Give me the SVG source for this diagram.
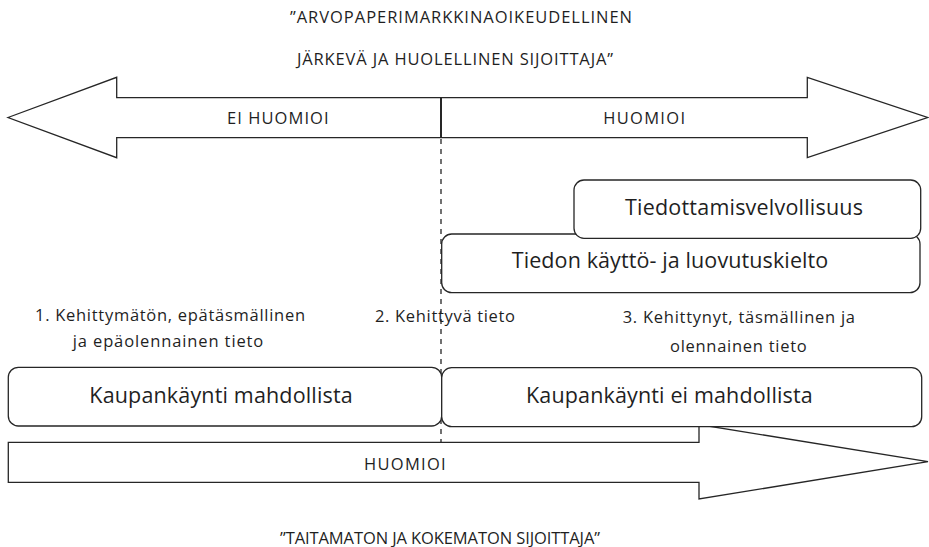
<svg xmlns="http://www.w3.org/2000/svg" width="929" height="547" viewBox="0 0 929 547">
  <style>
    .shape { fill: #ffffff; stroke: #262626; stroke-width: 1.3; stroke-linejoin: miter; }
    .box { fill: #ffffff; stroke: #262626; stroke-width: 1.3; }
    text { font-family: "Open Sans", "Liberation Sans", sans-serif; fill: #1f1f1f; }
    .cap { font-size: 16.5px; }
    .lbl { font-size: 16.5px; }
    .big { font-size: 21.5px; }
    .line { stroke: #262626; fill: none; }
  </style>
  <rect width="929" height="547" fill="#ffffff"/>

  <!-- heading -->
  <g id="heading-top">
    <text class="cap" x="290" y="23" textLength="342">”ARVOPAPERIMARKKINAOIKEUDELLINEN</text>
    <text class="cap" x="297" y="64.5" textLength="316">JÄRKEVÄ JA HUOLELLINEN SIJOITTAJA”</text>
  </g>

  <!-- double-headed scale arrow -->
  <g id="scale-arrow">
    <path class="shape" d="M8,117.5 L116.7,77.3 L116.7,97.7 L807.3,97.7 L807.3,77.3 L927.5,117.5 L807.3,157.7 L807.3,137.7 L116.7,137.7 L116.7,157.7 Z"/>
    <text class="cap" x="227" y="123.5" textLength="101.6">EI HUOMIOI</text>
    <text class="cap" x="603.3" y="124" textLength="81.7">HUOMIOI</text>
  </g>

  <!-- bottom one-way arrow -->
  <g id="bottom-arrow">
    <path class="shape" d="M8.3,442.3 L699,442.3 L699,424.5 L928,461.7 L699,499 L699,482.3 L8.3,482.3 Z"/>
    <text class="cap" x="364" y="470" textLength="81.7">HUOMIOI</text>
  </g>

  <!-- divider between the two halves -->
  <g id="connectors">
    <line class="line" x1="441" y1="97.7" x2="441" y2="137.7" stroke-width="2"/>
    <line class="line" x1="441" y1="139" x2="441" y2="442" stroke-width="1.3" stroke-dasharray="5 5"/>
  </g>

  <!-- stage labels -->
  <g id="stage-1">
    <text class="lbl" x="35" y="321" textLength="270">1. Kehittymätön, epätäsmällinen</text>
    <text class="lbl" x="72.7" y="347" textLength="190.6">ja epäolennainen tieto</text>
  </g>
  <g id="stage-2">
    <text class="lbl" x="375" y="322" textLength="140">2. Kehittyvä tieto</text>
  </g>
  <g id="stage-3">
    <text class="lbl" x="622.7" y="323.3" textLength="232.3">3. Kehittynyt, täsmällinen ja</text>
    <text class="lbl" x="670" y="351.5" textLength="136.7">olennainen tieto</text>
  </g>

  <!-- obligation boxes -->
  <g id="box-kielto">
    <rect class="box" x="441.7" y="234" width="478.3" height="58.7" rx="10" ry="10"/>
    <text class="big" x="511.7" y="267.5" textLength="316.6">Tiedon käyttö- ja luovutuskielto</text>
  </g>
  <g id="box-tiedottamis">
    <rect class="box" x="574" y="180" width="346.7" height="58.3" rx="10" ry="10"/>
    <text class="big" x="625" y="214.5" textLength="238">Tiedottamisvelvollisuus</text>
  </g>

  <!-- trading boxes -->
  <g id="box-mahdollista">
    <rect class="box" x="8.3" y="367.3" width="433.4" height="58.7" rx="10" ry="10"/>
    <text class="big" x="89.3" y="402.5" textLength="263.4">Kaupankäynti mahdollista</text>
  </g>
  <g id="box-ei-mahdollista">
    <rect class="box" x="441.7" y="367.7" width="480" height="59" rx="10" ry="10"/>
    <text class="big" x="526" y="402.5" textLength="286.7">Kaupankäynti ei mahdollista</text>
  </g>

  <!-- footer -->
  <g id="heading-bottom">
    <text class="cap" x="280" y="543.5" textLength="320">”TAITAMATON JA KOKEMATON SIJOITTAJA”</text>
  </g>
</svg>
